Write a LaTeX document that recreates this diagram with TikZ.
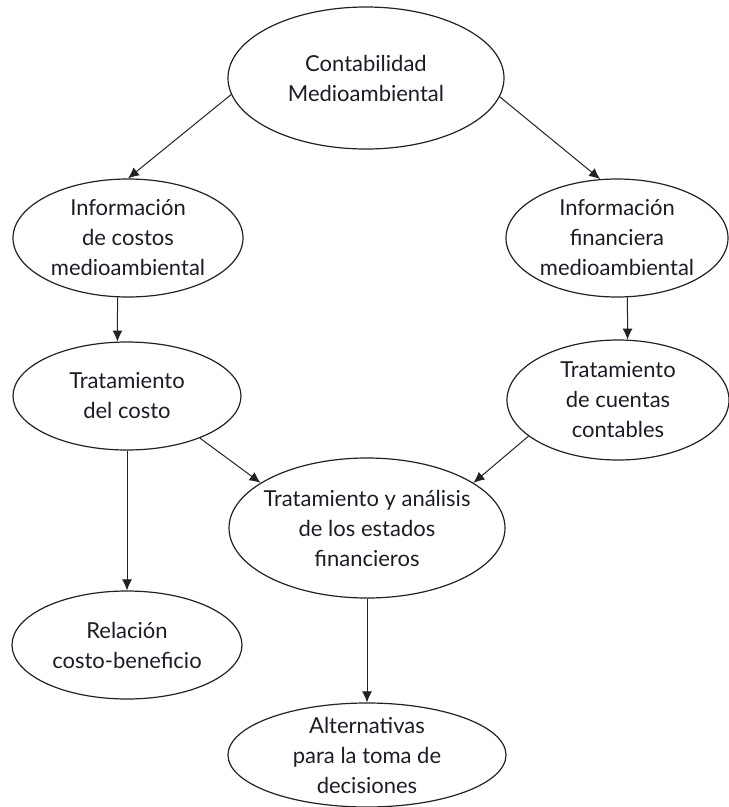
\documentclass[tikz,border=0pt]{standalone}
\usepackage{fontspec}
\setmainfont{Lato}
\definecolor{dgLine}{HTML}{222222}
\definecolor{dgText}{HTML}{1C1C28}
\usetikzlibrary{shapes.geometric,arrows.meta}

\begin{document}
\begin{tikzpicture}[x=1pt,y=-1pt,
  bubble/.style={ellipse, draw=dgLine, line width=1.2pt, inner sep=-12pt, align=center,
    text=dgText, font=\fontsize{22}{30}\selectfont},
  flow/.style={draw=dgLine, line width=1pt, -{Latex[length=11pt,width=10pt]}}]
  \useasboundingbox (0,0) rectangle (729,807);
  \node[bubble, minimum width=276pt, minimum height=142pt] (conta) at (366,78) {Contabilidad\\Medioambiental};
  \node[bubble, minimum width=230pt, minimum height=118pt] (costos) at (128,238) {Información\\de costos\\medioambiental};
  \node[bubble, minimum width=222pt, minimum height=118pt] (financ) at (617,238) {Información\\financiera\\medioambiental};
  \node[bubble, minimum width=228pt, minimum height=108pt] (tcosto) at (127,396) {Tratamiento\\del costo};
  \node[bubble, minimum width=222pt, minimum height=120pt] (cuentas) at (618,400) {Tratamiento\\de cuentas\\contables};
  \node[bubble, minimum width=276pt, minimum height=140pt] (estados) at (367,528) {Tratamiento y análisis\\de los estados\\financieros};
  \node[bubble, minimum width=230pt, minimum height=108pt] (relacion) at (127,645) {Relación\\costo-beneficio};
  \node[bubble, minimum width=278pt, minimum height=104pt] (altern) at (367,755) {Alternativas\\para la toma de\\decisiones};

  \draw[flow] (conta.187) -- (costos.north);
  \draw[flow] (conta.352) -- (financ.106);
  \draw[flow] (costos.260) -- (tcosto.100);
  \draw[flow] (financ.280) -- (cuentas.81);
  \draw[flow] (tcosto.-30) -- (estados.157);
  \draw[flow] (cuentas.202) -- (estados.23);
  \draw[flow] (tcosto.south) -- (relacion.north);
  \draw[flow] (estados.south) -- (altern.north);
\end{tikzpicture}
\end{document}
